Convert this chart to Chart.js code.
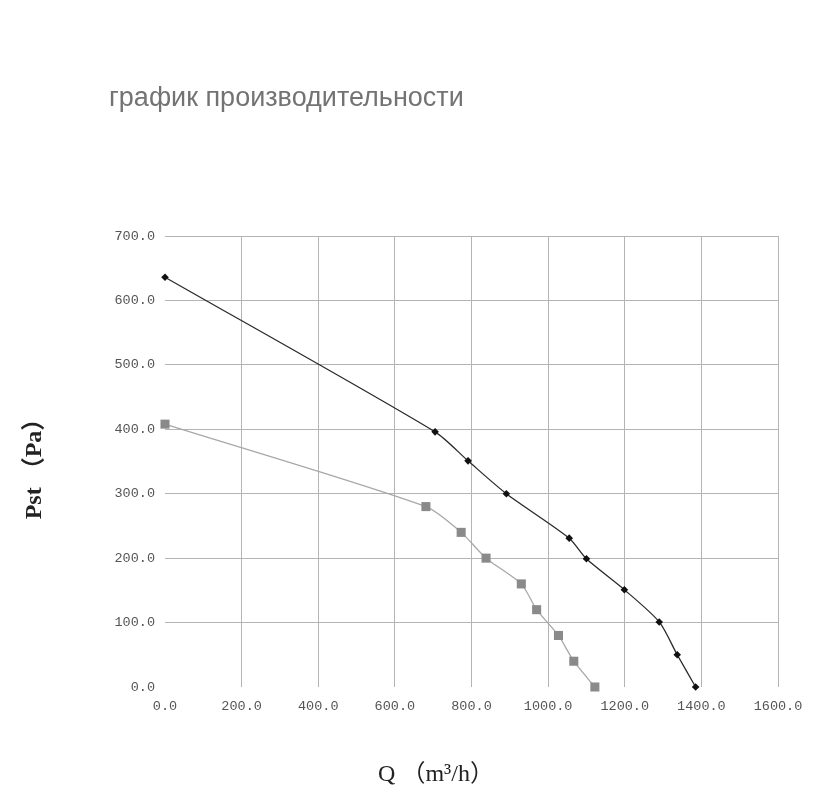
<!DOCTYPE html>
<html>
<head>
<meta charset="utf-8">
<script src="https://cdn.jsdelivr.net/npm/chart.js@4.4.0/dist/chart.umd.min.js"></script>
<style>
html,body{margin:0;padding:0;background:#fff;}
#wrap{width:820px;height:812px;position:relative;}
</style>
</head>
<body>
<div id="wrap"><canvas id="c" width="820" height="812"></canvas></div>
<script>
const chartTitle = 'график производительности';
const xAxisTitle = 'Q （m³/h）';
const yAxisTitle = 'Pst （Pa）';

// upper curve (black diamonds)
const upperQ = [0, 705, 791, 891, 1055, 1100, 1199, 1290, 1337, 1385];
const upperP = [636, 396, 351, 300, 231, 199, 151, 101, 50, 0];
// lower curve (gray squares)
const lowerQ = [0, 681, 773, 838, 930, 970, 1027, 1067, 1122];
const lowerP = [408, 280, 240, 200, 160, 120, 80, 40, 0];

const xMin = 0, xMax = 1600, xStep = 200;
const yMin = 0, yMax = 700, yStep = 100;

const toPts = (xs, ys) => xs.map((x, i) => ({x: x, y: ys[i]}));

const PLOT = {left: 165, right: 778, top: 236, bottom: 687};

const titlesPlugin = {
  id: 'titles',
  afterDraw(chart) {
    const ctx = chart.ctx;
    ctx.save();
    ctx.fillStyle = '#737373';
    ctx.font = '27px "Liberation Sans", Arial, sans-serif';
    ctx.textBaseline = 'middle';
    ctx.textAlign = 'left';
    ctx.fillText(chartTitle, 109, 99);

    ctx.fillStyle = '#222';
    ctx.font = '24px "Liberation Serif", "Noto Sans CJK SC", serif';
    ctx.textAlign = 'center';
    ctx.fillText(xAxisTitle, 436, 775);

    ctx.translate(35, 463);
    ctx.rotate(-Math.PI / 2);
    ctx.font = 'bold 24px "Liberation Serif", "Noto Sans CJK SC", serif';
    ctx.fillText(yAxisTitle, 0, 0);
    ctx.restore();
  }
};

const gridColor = (ctx) => (ctx.tick && ctx.tick.value === 0) ? 'rgba(0,0,0,0)' : '#b4b4b4';

new Chart(document.getElementById('c'), {
  type: 'scatter',
  data: {
    datasets: [
      {
        label: 'upper',
        data: toPts(upperQ, upperP),
        showLine: true,
        clip: false,
        borderColor: '#2a2a2a',
        borderWidth: 1.3,
        backgroundColor: '#111',
        pointStyle: 'rectRot',
        pointRadius: 3.8,
        pointBorderWidth: 0,
        tension: 0.25
      },
      {
        label: 'lower',
        data: toPts(lowerQ, lowerP),
        showLine: true,
        clip: false,
        borderColor: '#a8a8a8',
        borderWidth: 1.3,
        backgroundColor: '#8a8a8a',
        pointStyle: 'rect',
        pointRadius: 6.4,
        pointBorderWidth: 0,
        tension: 0.25
      }
    ]
  },
  options: {
    responsive: false,
    animation: false,
    devicePixelRatio: 1,
    layout: {padding: {left: 0, top: PLOT.top, right: 820 - PLOT.right, bottom: 0}},
    plugins: {legend: {display: false}, tooltip: {enabled: false}},
    scales: {
      x: {
        type: 'linear',
        min: xMin, max: xMax,
        border: {display: false},
        grid: {color: gridColor, lineWidth: 1, drawTicks: false},
        ticks: {
          stepSize: xStep,
          padding: 11,
          maxRotation: 0,
          color: '#555',
          font: {family: '"Liberation Mono", monospace', size: 13.5},
          callback: v => v.toFixed(1)
        },
        afterFit(scale) { scale.height = 812 - PLOT.bottom; }
      },
      y: {
        type: 'linear',
        min: yMin, max: yMax,
        border: {display: false},
        grid: {color: gridColor, lineWidth: 1, drawTicks: false},
        ticks: {
          stepSize: yStep,
          padding: 10,
          color: '#555',
          font: {family: '"Liberation Mono", monospace', size: 13.5},
          callback: v => v.toFixed(1)
        },
        afterFit(scale) { scale.width = PLOT.left; }
      }
    }
  },
  plugins: [titlesPlugin]
});
</script>
</body>
</html>
